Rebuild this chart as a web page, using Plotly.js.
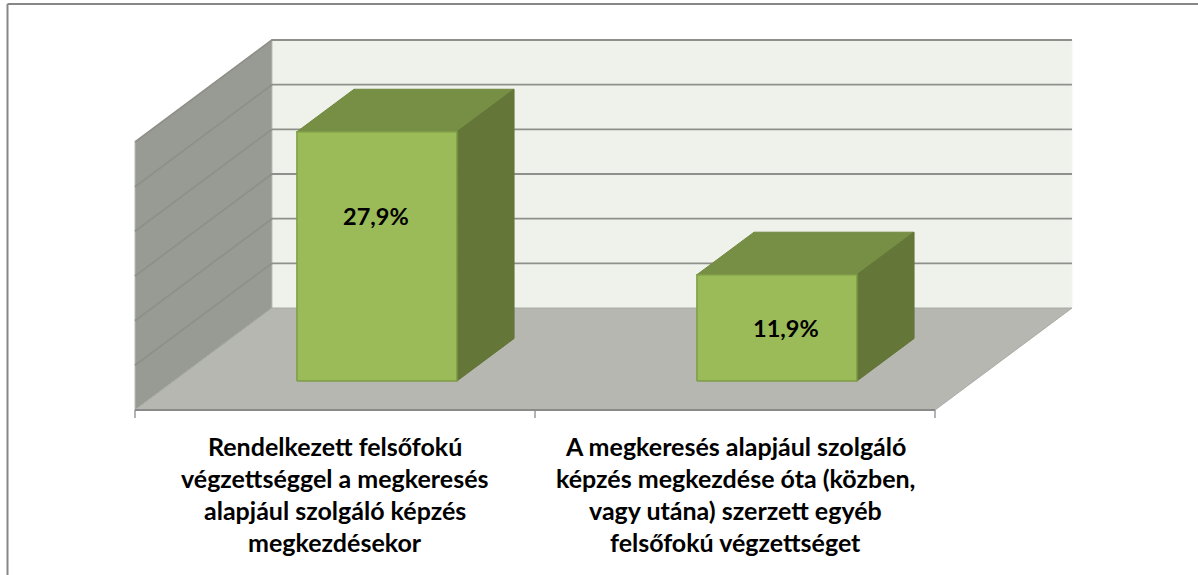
<!DOCTYPE html>
<html>
<head>
<meta charset="utf-8">
<script src="https://cdn.plot.ly/plotly-3.0.1.min.js"></script>
<style>html,body{margin:0;padding:0;background:#fff;overflow:hidden}#chart{width:1198px;height:575px}</style>
</head>
<body>
<div id="chart"></div>
<script>
// ---- data ----
var categories = [
  ["Rendelkezett felsőfokú", "végzettséggel a megkeresés", "alapjául szolgáló képzés", "megkezdésekor"],
  ["A megkeresés alapjául szolgáló", "képzés megkezdése óta (közben,", "vagy utána) szerzett egyéb", "felsőfokú végzettséget"]
];
var values = [27.9, 11.9];
var valueLabels = ["27,9%", "11,9%"];
var gridValues = [5, 10, 15, 20, 25, 30];

// ---- oblique 3D projection, expressed in axis units ----
var PXX = 400, PXY = 268 / 30;             // px per category, px per value unit
var DX = 137 / PXX, DY = 102 / PXY;        // shift of the rear plane in axis units
var CAT_MIN = -0.5, CAT_MAX = 1.5, VAL_MAX = 30;
var BAR_HALF = 0.2, BAR_NEAR = 0.284, BAR_FAR = 0.701, BAR_SHIFT = 0.0075;
function P(c, v, d) { return [c + d * DX, v + d * DY]; }

var traces = [];
function poly(pts, fill, line, lw) {
  traces.push({type: "scatter", mode: "lines", x: pts.map(function (p) { return p[0]; }).concat(pts[0][0]),
    y: pts.map(function (p) { return p[1]; }).concat(pts[0][1]), fill: "toself", fillcolor: fill,
    line: {color: line, width: lw === undefined ? 1 : lw}, hoverinfo: "skip", showlegend: false});
}
function path(pts, color, w) {
  traces.push({type: "scatter", mode: "lines", x: pts.map(function (p) { return p[0]; }),
    y: pts.map(function (p) { return p[1]; }), line: {color: color, width: w}, hoverinfo: "skip", showlegend: false});
}

// walls and floor
poly([P(CAT_MIN, 0, 1), P(CAT_MAX, 0, 1), P(CAT_MAX, VAL_MAX, 1), P(CAT_MIN, VAL_MAX, 1)], "#eff2eb", "#f4f5f1", 1);
poly([P(CAT_MIN, 0, 0), P(CAT_MIN, 0, 1), P(CAT_MIN, VAL_MAX, 1), P(CAT_MIN, VAL_MAX, 0)], "#989b93", "#b9bbb5", 1);
poly([P(CAT_MIN, 0, 0), P(CAT_MAX, 0, 0), P(CAT_MAX, 0, 1), P(CAT_MIN, 0, 1)], "#b5b7b0", "#a8aaa4", 1);

// gridlines
gridValues.forEach(function (g) {
  path([P(CAT_MIN, g, 0), P(CAT_MIN, g, 1), P(CAT_MAX, g, 1)], "#8f8f8b", 1.8);
});

// category axis
path([P(CAT_MIN, 0, 0), P(CAT_MAX, 0, 0)], "#8a8a8a", 1.8);
[CAT_MIN, CAT_MIN + 1, CAT_MIN + 2].forEach(function (t) {
  path([[t, 0], [t, -8 / PXY]], "#8a8a8a", 1.3);
});

// bars
var annotations = [];
var labelOffsets = [[-0.003, 4.5], [0.022, 0]];
values.forEach(function (v, i) {
  var l = i + BAR_SHIFT - BAR_HALF, r = i + BAR_SHIFT + BAR_HALF;
  poly([P(l, v, BAR_NEAR), P(r, v, BAR_NEAR), P(r, v, BAR_FAR), P(l, v, BAR_FAR)], "#778f45", "#70873f", 1);
  poly([P(r, 0, BAR_NEAR), P(r, 0, BAR_FAR), P(r, v, BAR_FAR), P(r, v, BAR_NEAR)], "#647638", "#627437", 1);
  poly([P(l, 0, BAR_NEAR), P(r, 0, BAR_NEAR), P(r, v, BAR_NEAR), P(l, v, BAR_NEAR)], "#9bbb59", "#7f9c47", 1.5);
  var mid = P(i + BAR_SHIFT + labelOffsets[i][0], v / 2 + labelOffsets[i][1], BAR_NEAR);
  annotations.push({xref: "x", yref: "y", x: mid[0], y: mid[1], text: "<b>" + valueLabels[i] + "</b>",
    showarrow: false, xanchor: "center", yanchor: "middle",
    font: {family: "Lato, sans-serif", size: 23.5, color: "#000"}});
});

// category labels, one annotation per line for the wide line spacing
var LINE_TOP = -35.5 / PXY, LINE_STEP = 32.2 / PXY;
categories.forEach(function (lines, i) {
  lines.forEach(function (t, k) {
    annotations.push({xref: "x", yref: "y", x: i, y: LINE_TOP - k * LINE_STEP, text: "<b>" + t + "</b>",
      showarrow: false, xanchor: "center", yanchor: "middle",
      font: {family: "Lato, sans-serif", size: 25, color: "#000"}});
  });
});

var layout = {
  width: 1198, height: 575, margin: {l: 0, r: 0, t: 0, b: 0},
  paper_bgcolor: "#fff", plot_bgcolor: "#fff", showlegend: false,
  xaxis: {visible: false, range: [CAT_MIN - 135 / PXX, CAT_MIN + (1198 - 135) / PXX], fixedrange: true},
  yaxis: {visible: false, range: [(410 - 575) / PXY, 410 / PXY], fixedrange: true},
  annotations: annotations,
  shapes: [
    {type: "line", xref: "paper", yref: "paper", x0: 7.5 / 1198, x1: 1, y0: 1 - 4 / 575, y1: 1 - 4 / 575, line: {color: "#878787", width: 2}},
    {type: "line", xref: "paper", yref: "paper", x0: 7.5 / 1198, x1: 7.5 / 1198, y0: 1 - 4 / 575, y1: 0, line: {color: "#878787", width: 2}}
  ]
};
Plotly.newPlot("chart", traces, layout, {displayModeBar: false, staticPlot: true});
</script>
</body>
</html>
